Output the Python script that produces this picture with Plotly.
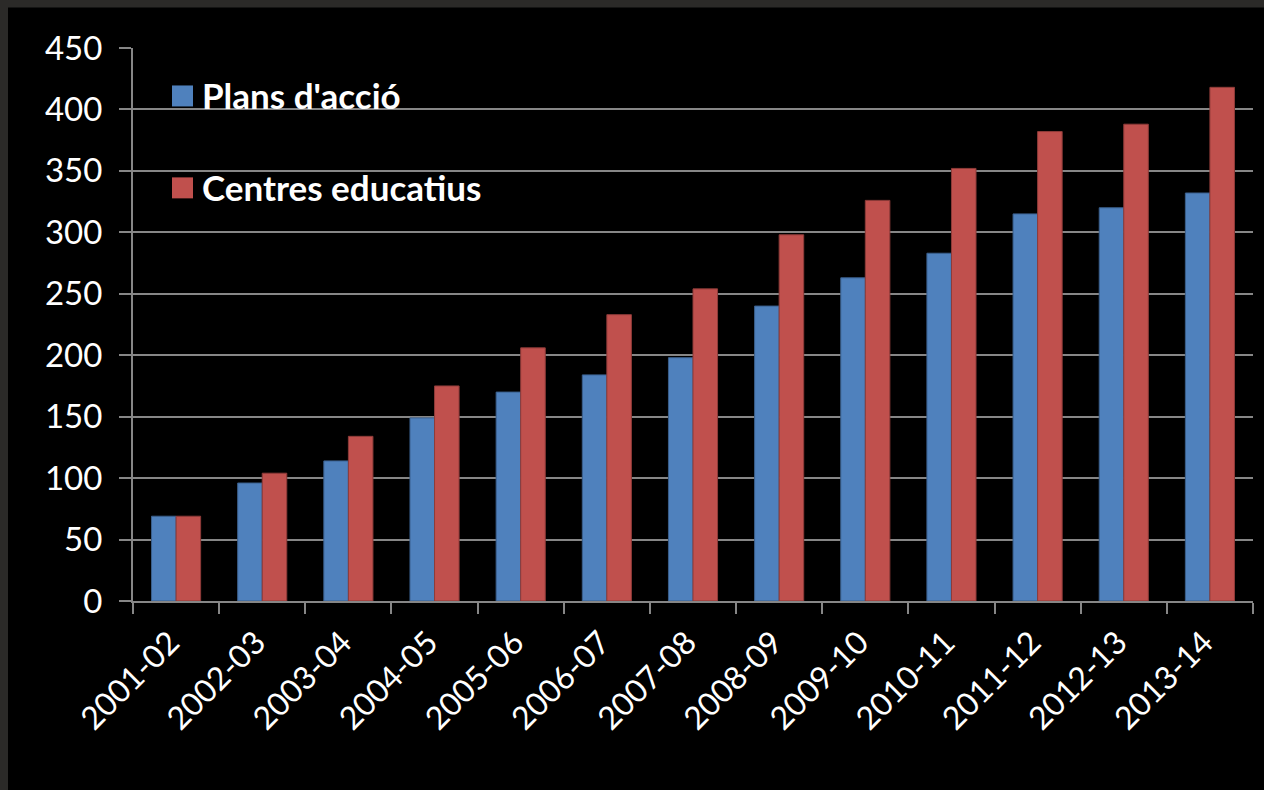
import plotly.graph_objects as go

categories = ["2001-02", "2002-03", "2003-04", "2004-05", "2005-06", "2006-07",
              "2007-08", "2008-09", "2009-10", "2010-11", "2011-12", "2012-13", "2013-14"]
plans = [69, 96, 114, 149, 170, 184, 198, 240, 263, 283, 315, 320, 332]
centres = [69, 104, 134, 175, 206, 233, 254, 298, 326, 352, 382, 388, 418]
series_names = ["Plans d'acció", "Centres educatius"]
y_ticks = [0, 50, 100, 150, 200, 250, 300, 350, 400, 450]

W, H = 1264, 790
L, R, T, B = 133, 1253, 47.5, 601
BLUE, RED = "#4F81BD", "#C0504D"
FONT = "Lato"

def px(x):
    return (x - L) / (R - L)

def py(y):
    return (B - y) / (B - T)

fig = go.Figure()
fig.add_bar(x=categories, y=plans, name=series_names[0],
            marker=dict(color=BLUE, line=dict(color="#3A5F8C", width=1)))
fig.add_bar(x=categories, y=centres, name=series_names[1],
            marker=dict(color=RED, line=dict(color="#8E3B39", width=1)))

shapes = [
    dict(type="rect", xref="paper", yref="paper", layer="below",
         x0=px(8), x1=px(W + 5), y0=py(H + 5), y1=py(7),
         fillcolor="#000000", line=dict(width=0)),
]
annotations = []
legend_rows = [(85, 106), (177, 198)]
for (y0, y1), name, col in zip(legend_rows, series_names, [BLUE, RED]):
    shapes.append(dict(type="rect", xref="paper", yref="paper",
                       x0=px(172), x1=px(193), y0=py(y1), y1=py(y0),
                       fillcolor=col, line=dict(width=0)))
    annotations.append(dict(xref="paper", yref="paper", x=px(200), y=py((y0 + y1) / 2 - 1),
                            text="<b>" + name + "</b>", showarrow=False,
                            xanchor="left", yanchor="middle",
                            font=dict(family=FONT, size=35, color="white")))

fig.update_layout(
    width=W, height=H,
    margin=dict(l=L, r=W - R, t=T, b=H - B, pad=0),
    paper_bgcolor="#2b2a28",
    plot_bgcolor="#000000",
    barmode="group",
    bargap=0.43,
    bargroupgap=0,
    showlegend=False,
    shapes=shapes,
    annotations=annotations,
    font=dict(family=FONT, color="white"),
    xaxis=dict(
        type="category", tickangle=-45, tickson="boundaries",
        ticks="outside", ticklen=11, tickwidth=2, tickcolor="#868686",
        showline=True, linecolor="#868686", linewidth=2,
        showgrid=False, tickfont=dict(family=FONT, size=32, color="white"),
        ticklabelstandoff=8, ticklabelshift=-6,
    ),
    yaxis=dict(
        range=[0, 450], tickvals=y_ticks, ticks="outside", ticklen=12,
        tickwidth=2, tickcolor="#868686",
        showline=True, linecolor="#868686", linewidth=2,
        showgrid=True, gridcolor="#868686", gridwidth=2,
        zeroline=False,
        tickfont=dict(family=FONT, size=33, color="white"),
        ticklabelstandoff=10,
    ),
)

fig.write_html("out.html", config={"displayModeBar": False},
               post_script="document.body.style.margin='0';document.body.style.overflow='hidden';")
